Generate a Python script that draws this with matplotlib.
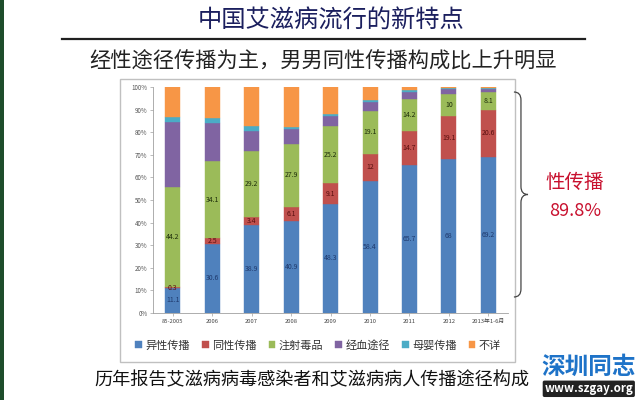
import matplotlib

matplotlib.use("Agg")
import matplotlib.pyplot as plt  # noqa: E402
import numpy as np  # noqa: E402
from matplotlib.patches import Rectangle, PathPatch  # noqa: E402
from matplotlib.path import Path  # noqa: E402

plt.rcParams["font.family"] = ["Noto Sans CJK SC", "DejaVu Sans"]

years = ["85-2005", "2006", "2007", "2008", "2009", "2010", "2011", "2012", "2013年1-6月"]
routes = ["异性传播", "同性传播", "注射毒品", "经血途径", "母婴传播", "不详"]
hetero = [11.1, 30.6, 38.9, 40.9, 48.3, 58.4, 65.7, 68.0, 69.2]
homo = [0.3, 2.5, 3.4, 6.1, 9.1, 12.0, 14.7, 19.1, 20.6]
drugs = [44.2, 34.1, 29.2, 27.9, 25.2, 19.1, 14.2, 10.0, 8.1]
blood = [29.0, 17.0, 9.2, 6.5, 4.5, 3.7, 3.1, 2.0, 1.3]
mother = [2.0, 1.9, 2.0, 0.8, 1.1, 1.0, 0.9, 0.5, 0.4]
unknown = [13.4, 13.9, 17.3, 17.8, 11.8, 5.8, 1.4, 0.4, 0.4]
labelled = [hetero, homo, drugs]
sex_share = "89.8%"

colors = ["#4F81BD", "#C0504D", "#9BBB59", "#8064A2", "#4BACC6", "#F79646"]
label_colors = ["#1F3A6E", "#5A0F0F", "#1E2E0A"]

fig = plt.figure(figsize=(6.4, 4), dpi=100)
fig.patch.set_facecolor("white")

# slide decoration
fig.add_artist(Rectangle((0, 0), 0.006, 1, transform=fig.transFigure, color="#1E4D2B", lw=0))
fig.text(0.517, 0.95, "中国艾滋病流行的新特点", ha="center", va="center", fontsize=17.5,
         color="#1B1F5E")
fig.add_artist(plt.Line2D([0.097, 0.914], [0.902, 0.902], transform=fig.transFigure,
                          color="#202020", lw=1.6))
fig.text(0.505, 0.845, "经性途径传播为主，男男同性传播构成比上升明显", ha="center", va="center",
         fontsize=15.3, color="#222222")

# chart frame
fig.add_artist(Rectangle((0.1875, 0.095), 0.617, 0.7075, transform=fig.transFigure,
                         facecolor="white", edgecolor="#C0C0C0", lw=1.0, zorder=0))

ax = fig.add_axes([0.239, 0.2175, 0.555, 0.565])
x = np.arange(len(years))
series = [hetero, homo, drugs, blood, mother, unknown]
bottom = np.zeros(len(years))
for i, (vals, name) in enumerate(zip(series, routes)):
    vals = np.array(vals)
    ax.bar(x, vals, 0.38, bottom=bottom, color=colors[i], edgecolor=colors[i], lw=0.3,
           label=name, zorder=2)
    if i < len(labelled):
        for xi, b, v in zip(x, bottom, vals):
            ax.text(xi, b + v / 2, f"{v:g}", ha="center", va="center", fontsize=5,
                    color=label_colors[i], zorder=3)
    bottom += vals

ax.set_xlim(-0.5, len(years) - 0.5)
ax.set_ylim(0, 100)
ax.set_yticks(np.arange(0, 101, 10))
ax.set_yticklabels([f"{v}%" for v in range(0, 101, 10)], fontsize=4.5, color="#555555")
ax.set_xticks(x)
ax.set_xticklabels(years, fontsize=4.2, color="#444444")
for s in ["top", "right"]:
    ax.spines[s].set_visible(False)
for s in ["left", "bottom"]:
    ax.spines[s].set_color("#A0A0A0")
    ax.spines[s].set_linewidth(0.6)
ax.tick_params(axis="both", length=2, width=0.5, color="#A0A0A0", pad=2)

leg = fig.legend(*ax.get_legend_handles_labels(), loc="center", bbox_to_anchor=(0.497, 0.137),
                 ncol=6, frameon=False, fontsize=8, handlelength=0.6, handleheight=0.6,
                 handletextpad=0.3, columnspacing=1.1)
for t in leg.get_texts():
    t.set_color("#333333")

# brace on the right
bx, by0, by1 = 0.803, 0.2575, 0.77
ym = (by0 + by1) / 2
w = 0.011
verts = [(bx, by1), (bx + w, by1), (bx + w, by1 - 0.02),
         (bx + w, ym + 0.02), (bx + w, ym), (bx + 2 * w, ym),
         (bx + w, ym), (bx + w, ym - 0.02),
         (bx + w, by0 + 0.02), (bx + w, by0), (bx, by0)]
codes = [Path.MOVETO, Path.CURVE3, Path.CURVE3, Path.LINETO, Path.CURVE3, Path.CURVE3,
         Path.CURVE3, Path.CURVE3, Path.LINETO, Path.CURVE3, Path.CURVE3]
fig.add_artist(PathPatch(Path(verts, codes), transform=fig.transFigure, fill=False,
                         edgecolor="#444444", lw=0.9))
fig.text(0.898, 0.543, "性传播", ha="center", va="center", fontsize=14, color="#C8102E")
fig.text(0.898, 0.472, sex_share, ha="center", va="center", fontsize=13, color="#C8102E")

fig.text(0.148, 0.05, "历年报告艾滋病病毒感染者和艾滋病病人传播途径构成", ha="left",
         va="center", fontsize=13.1, color="#111111", zorder=1)

# watermark
fig.text(0.92, 0.083, "深圳同志", ha="center", va="center", fontsize=17, color="#1E73C8",
         fontweight="bold", zorder=5)
fig.text(0.92, 0.028, "www.szgay.org", ha="center", va="center", fontsize=8.3, color="white",
         fontweight="bold", zorder=5,
         bbox=dict(boxstyle="round,pad=0.15", facecolor="#222222", edgecolor="none"))

fig.savefig("out.png", dpi=100)
plt.close(fig)
